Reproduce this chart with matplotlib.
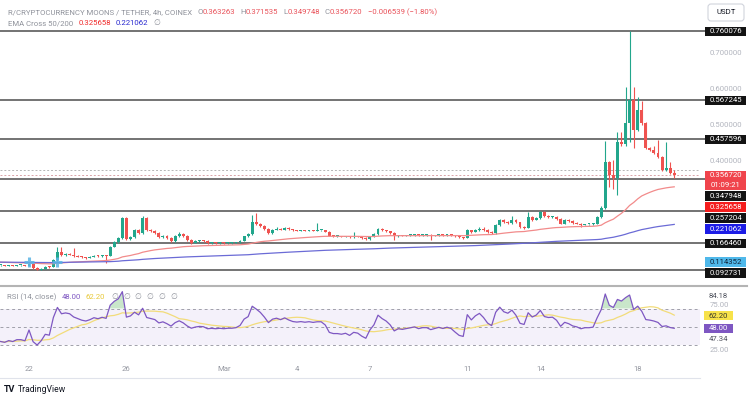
import numpy as np
import pandas as pd
import matplotlib
matplotlib.use("Agg")
import matplotlib.pyplot as plt
from matplotlib.patches import Rectangle, FancyBboxPatch
from matplotlib.ticker import FormatStrFormatter

plt.rcParams['font.family'] = ['Roboto', 'DejaVu Sans']

# ---- data: R/CRYPTOCURRENCY MOONS / TETHER, 4h candles (COINEX) ----
first_open = 0.105
close = [
    0.105, 0.104, 0.105, 0.104, 0.105, 0.105, 0.104, 0.110, 0.098, 0.093,
    0.096, 0.101, 0.100, 0.120, 0.142, 0.134, 0.136, 0.135, 0.131, 0.129,
    0.127, 0.126, 0.128, 0.131, 0.130, 0.132, 0.131, 0.157, 0.170, 0.181,
    0.237, 0.178, 0.184, 0.204, 0.196, 0.237, 0.204, 0.200, 0.196, 0.183,
    0.188, 0.181, 0.172, 0.186, 0.194, 0.187, 0.176, 0.168, 0.172, 0.174,
    0.173, 0.167, 0.168, 0.167, 0.168, 0.167, 0.168, 0.168, 0.169, 0.173,
    0.186, 0.192, 0.227, 0.222, 0.216, 0.207, 0.195, 0.205, 0.208, 0.205,
    0.210, 0.206, 0.203, 0.202, 0.203, 0.202, 0.203, 0.202, 0.203, 0.203,
    0.199, 0.188, 0.186, 0.186, 0.185, 0.186, 0.183, 0.186, 0.185, 0.181,
    0.178, 0.186, 0.192, 0.207, 0.203, 0.200, 0.195, 0.186, 0.189, 0.188,
    0.189, 0.190, 0.191, 0.189, 0.190, 0.190, 0.188, 0.189, 0.190, 0.189,
    0.190, 0.189, 0.186, 0.183, 0.182, 0.203, 0.198, 0.204, 0.208, 0.204,
    0.198, 0.195, 0.218, 0.232, 0.226, 0.224, 0.232, 0.225, 0.212, 0.210,
    0.240, 0.232, 0.238, 0.254, 0.242, 0.240, 0.241, 0.235, 0.222, 0.232,
    0.229, 0.224, 0.222, 0.218, 0.220, 0.220, 0.221, 0.240, 0.265, 0.395,
    0.358, 0.350, 0.451, 0.444, 0.505, 0.568, 0.484, 0.540, 0.503, 0.433,
    0.428, 0.420, 0.408, 0.372, 0.378, 0.363263, 0.356720,
]
high = [
    0.106, 0.106, 0.106, 0.106, 0.106, 0.107, 0.106, 0.112, 0.112, 0.099,
    0.098, 0.103, 0.104, 0.122, 0.156, 0.156, 0.139, 0.140, 0.153, 0.134,
    0.131, 0.129, 0.130, 0.133, 0.133, 0.134, 0.134, 0.160, 0.173, 0.185,
    0.240, 0.239, 0.188, 0.208, 0.208, 0.242, 0.239, 0.206, 0.203, 0.198,
    0.191, 0.190, 0.183, 0.189, 0.197, 0.196, 0.189, 0.178, 0.175, 0.176,
    0.176, 0.175, 0.170, 0.170, 0.170, 0.170, 0.170, 0.170, 0.171, 0.176,
    0.188, 0.195, 0.246, 0.251, 0.224, 0.218, 0.209, 0.208, 0.211, 0.210,
    0.213, 0.212, 0.208, 0.205, 0.205, 0.205, 0.205, 0.204, 0.224, 0.205,
    0.205, 0.201, 0.190, 0.188, 0.188, 0.188, 0.188, 0.198, 0.188, 0.187,
    0.183, 0.188, 0.195, 0.210, 0.209, 0.205, 0.202, 0.197, 0.191, 0.191,
    0.191, 0.192, 0.193, 0.193, 0.192, 0.192, 0.192, 0.191, 0.192, 0.192,
    0.192, 0.191, 0.191, 0.188, 0.185, 0.206, 0.205, 0.207, 0.211, 0.213,
    0.206, 0.200, 0.221, 0.235, 0.234, 0.228, 0.244, 0.234, 0.227, 0.214,
    0.255, 0.242, 0.241, 0.257, 0.256, 0.245, 0.244, 0.243, 0.237, 0.235,
    0.234, 0.231, 0.226, 0.224, 0.222, 0.222, 0.223, 0.243, 0.270, 0.452,
    0.398, 0.400, 0.478, 0.478, 0.604, 0.760076, 0.604, 0.576, 0.564, 0.506,
    0.436, 0.440, 0.456, 0.410, 0.451, 0.395, 0.371535,
]
low = [
    0.104, 0.103, 0.103, 0.103, 0.103, 0.104, 0.103, 0.103, 0.096, 0.0927,
    0.092, 0.095, 0.098, 0.099, 0.118, 0.132, 0.132, 0.133, 0.129, 0.127,
    0.125, 0.124, 0.125, 0.127, 0.128, 0.129, 0.111, 0.130, 0.155, 0.168,
    0.180, 0.175, 0.176, 0.182, 0.193, 0.194, 0.202, 0.198, 0.194, 0.181,
    0.181, 0.179, 0.170, 0.171, 0.184, 0.185, 0.174, 0.166, 0.167, 0.170,
    0.171, 0.165, 0.166, 0.165, 0.166, 0.165, 0.166, 0.166, 0.167, 0.168,
    0.172, 0.184, 0.190, 0.219, 0.213, 0.205, 0.192, 0.193, 0.203, 0.203,
    0.204, 0.204, 0.201, 0.200, 0.201, 0.200, 0.201, 0.200, 0.201, 0.201,
    0.197, 0.186, 0.184, 0.184, 0.183, 0.184, 0.181, 0.182, 0.183, 0.179,
    0.176, 0.177, 0.185, 0.190, 0.201, 0.198, 0.193, 0.176, 0.185, 0.186,
    0.187, 0.187, 0.188, 0.187, 0.188, 0.188, 0.176, 0.187, 0.188, 0.187,
    0.188, 0.187, 0.184, 0.181, 0.179, 0.181, 0.196, 0.197, 0.202, 0.202,
    0.196, 0.193, 0.194, 0.216, 0.224, 0.222, 0.222, 0.223, 0.210, 0.207,
    0.209, 0.230, 0.231, 0.236, 0.240, 0.238, 0.238, 0.233, 0.220, 0.221,
    0.227, 0.222, 0.220, 0.211, 0.217, 0.218, 0.219, 0.220, 0.238, 0.262,
    0.325, 0.320, 0.302, 0.440, 0.440, 0.450, 0.434, 0.480, 0.498, 0.430,
    0.425, 0.417, 0.405, 0.369, 0.368, 0.360, 0.349748,
]

# horizontal levels drawn on the chart
levels = [0.760076, 0.567245, 0.457596, 0.347948, 0.257204, 0.166460, 0.092731]
last_high = 0.371535
cross_idx = [7, 14]
cross_price = 0.114352

ema_fast_span, ema_slow_span = 50, 200
ema_fast_seed, ema_slow_seed = 0.114, 0.114
ema_fast_last, ema_slow_last = 0.325658, 0.221062
rsi_len = 14
rsi_gain_seed, rsi_loss_seed = 0.001, 0.002
rsi_last, rsi_ma_last = 48.00, 62.20
rsi_upper_lbl, rsi_lower_lbl = 84.18, 47.34
change_abs, change_pct = -0.006539, -1.80
countdown = "01:09:21"

date_labels = ['22', '26', 'Mar', '4', '7', '11', '14', '18']
date_idx = [7, 31, 55, 73, 91, 115, 133, 157]

# ---- derived series ----
c = np.array(close)
h = np.array(high)
l = np.array(low)
o = np.r_[first_open, c[:-1]]
n = len(c)
idx = np.arange(n)

ema_fast = pd.Series(np.r_[ema_fast_seed, c]).ewm(span=ema_fast_span, adjust=False).mean().values[1:]
ema_slow = pd.Series(np.r_[ema_slow_seed, c]).ewm(span=ema_slow_span, adjust=False).mean().values[1:]

d = np.diff(np.r_[first_open, c])
ag = pd.Series(np.r_[rsi_gain_seed, np.clip(d, 0, None)]).ewm(alpha=1 / rsi_len, adjust=False).mean().values[1:]
al = pd.Series(np.r_[rsi_loss_seed, np.clip(-d, 0, None)]).ewm(alpha=1 / rsi_len, adjust=False).mean().values[1:]
rsi = 100 - 100 / (1 + ag / al)
rsi_ma = pd.Series(rsi).rolling(rsi_len, min_periods=1).mean().values

# ---- figure ----
W, H = 750, 398
GREEN, RED = '#22a68c', '#ef5350'
GRAY_TXT = '#8f929b'

fig = plt.figure(figsize=(W / 100, H / 100), dpi=100)
fig.patch.set_facecolor('white')


def px_rect(x0, y0, x1, y1):
    return [x0 / W, 1 - y1 / H, (x1 - x0) / W, (y1 - y0) / H]


ax = fig.add_axes(px_rect(0, 0, 700, 285))
ax_rsi = fig.add_axes(px_rect(0, 286, 700, 378))
ov = fig.add_axes([0, 0, 1, 1], zorder=10)
ov.set_xlim(0, W)
ov.set_ylim(H, 0)
ov.axis('off')

xl = (-0.15, 172.35)
ax.set_xlim(*xl)
ax.set_ylim(0.0499, 0.8482)
ax_rsi.set_xlim(*xl)
ax_rsi.set_ylim(-7.2, 95)

for a in (ax, ax_rsi):
    for s in ('top', 'left', 'right', 'bottom'):
        a.spines[s].set_visible(False)
    a.set_xticks([])
    a.yaxis.tick_right()
    a.tick_params(axis='y', length=0, pad=7, labelsize=5.6, labelcolor='#b2b5be')
ax_rsi.spines['bottom'].set_visible(True)
ax_rsi.spines['bottom'].set_color('#e0e3eb')

ax.set_yticks([0.4, 0.5, 0.6, 0.7])
ax.yaxis.set_major_formatter(FormatStrFormatter('%.6f'))
ax_rsi.set_yticks([75, 25])
ax_rsi.yaxis.set_major_formatter(FormatStrFormatter('%.2f'))

# levels and price lines
for v in levels:
    ax.axhline(v, xmax=1.008, color='#4d4d4d', lw=1.1, zorder=2, clip_on=False)
ax.axhline(c[-1], color='#d9a3a8', lw=0.7, ls=(0, (2, 2)), zorder=2)
ax.axhline(last_high, color='#b5b5b5', lw=0.7, ls=(0, (2, 2)), zorder=2)

# candles
up = c >= o
col = np.where(up, GREEN, RED)
body_lo = np.minimum(o, c)
body_h = np.maximum(np.abs(c - o), 0.0028)
ax.vlines(idx, l, h, colors=col, lw=0.8, zorder=3)
ax.bar(idx, body_h, bottom=body_lo, width=0.72, color=col, lw=0, zorder=4)

# EMA cross
ax.plot(idx, ema_fast, color='#f28b8b', lw=0.9, zorder=5)
ax.plot(idx, ema_slow, color='#6b6bd6', lw=0.9, zorder=5)
ax.plot(cross_idx, [cross_price] * len(cross_idx), '+', color='#5ab4e5',
        ms=7, mew=2.2, alpha=0.85, zorder=6)

# RSI pane
ax_rsi.axhspan(30, 70, color='#7e57c2', alpha=0.08, lw=0)
for v in (70, 50, 30):
    ax_rsi.axhline(v, color='#a0a0aa', lw=0.7, ls=(0, (3, 3)))
ax_rsi.fill_between(idx, rsi, 70, where=rsi > 70, interpolate=True,
                    color='#a5d6a7', alpha=0.6, lw=0)
ax_rsi.plot(idx, rsi_ma, color='#f2dc7a', lw=0.9)
ax_rsi.plot(idx, rsi, color='#7e57c2', lw=0.9)
for j, lab in zip(date_idx, date_labels):
    ax_rsi.text(j, 0.098, lab, transform=ax_rsi.get_xaxis_transform(),
                ha='center', va='center', fontsize=5.6, color='#9598a1')

# panel separator
ov.plot([0, 747], [285.5, 285.5], color='#b4b4b4', lw=1.5)


def to_px(a, v):
    return H - a.transData.transform((0, v))[1]


def stack(a, items, x0=705, w=41, hh=9.5, gap=1.5):
    prev = -1e9
    for val, lines, fc, tc in items:
        cy = to_px(a, val)
        top = max(cy - hh / 2, prev + gap)
        bh = hh * len(lines)
        if fc is not None:
            ov.add_patch(Rectangle((x0, top), w, bh, fc=fc, ec='none', zorder=3))
        for k, txt in enumerate(lines):
            ov.text(x0 + w / 2, top + hh * (k + 0.5), txt, ha='center', va='center',
                    fontsize=5.6, color=tc, zorder=4)
        prev = top + bh


price_items = [
    (levels[0], ['%.6f' % levels[0]], '#131313', 'white'),
    (levels[1], ['%.6f' % levels[1]], '#131313', 'white'),
    (levels[2], ['%.6f' % levels[2]], '#131313', 'white'),
    (c[-1], ['%.6f' % c[-1], countdown], '#f0444c', 'white'),
    (levels[3], ['%.6f' % levels[3]], '#131313', 'white'),
    (ema_fast_last, ['%.6f' % ema_fast_last], '#f51d1d', 'white'),
    (levels[4], ['%.6f' % levels[4]], '#131313', 'white'),
    (ema_slow_last, ['%.6f' % ema_slow_last], '#1c1ce6', 'white'),
    (levels[5], ['%.6f' % levels[5]], '#131313', 'white'),
    (cross_price, ['%.6f' % cross_price], '#4fb8ea', '#10243a'),
    (levels[6], ['%.6f' % levels[6]], '#131313', 'white'),
]
stack(ax, price_items)

rsi_items = [
    (rsi_upper_lbl, ['%.2f' % rsi_upper_lbl], None, '#50535e'),
    (rsi_ma_last, ['%.2f' % rsi_ma_last], '#f7e24a', '#3a3a2a'),
    (rsi_last, ['%.2f' % rsi_last], '#7e57c2', 'white'),
    (rsi_lower_lbl, ['%.2f' % rsi_lower_lbl], None, '#50535e'),
]
stack(ax_rsi, rsi_items, x0=704, w=29)

# currency box
ov.add_patch(FancyBboxPatch((708, 4), 36, 17, boxstyle='round,pad=0,rounding_size=3',
                            fc='white', ec='#d1d4dc', lw=0.8, zorder=3))
ov.text(726, 12.5, 'USDT', ha='center', va='center', fontsize=5.6, color='#131722', zorder=4)

# legend-like header texts
renderer = fig.canvas.get_renderer()


def chain(x, y, pieces, size=5.6):
    for txt, color, gap in pieces:
        t = ov.text(x, y, txt, color=color, fontsize=size, ha='left', va='center')
        x += t.get_window_extent(renderer).width + gap
    return x


RED_T = '#e9525a'
chain(8, 12, [
    ('R/CRYPTOCURRENCY MOONS / TETHER, 4h, COINEX', GRAY_TXT, 5),
    ('O', GRAY_TXT, 0), ('%.6f' % o[-1], RED_T, 5),
    ('H', GRAY_TXT, 0), ('%.6f' % h[-1], RED_T, 5),
    ('L', GRAY_TXT, 0), ('%.6f' % l[-1], RED_T, 5),
    ('C', GRAY_TXT, 0), ('%.6f' % c[-1], RED_T, 5),
    ('\u2212%.6f (\u2212%.2f%%)' % (abs(change_abs), abs(change_pct)), RED_T, 0),
])
chain(8, 23, [
    ('EMA Cross 50/200', GRAY_TXT, 5),
    ('%.6f' % ema_fast_last, '#f02a2a', 5),
    ('%.6f' % ema_slow_last, '#2a2ad0', 5),
    ('\u2205', GRAY_TXT, 0),
])
chain(7, 297, [
    ('RSI (14, close)', GRAY_TXT, 5),
    ('%.2f' % rsi_last, '#7e57c2', 5),
    ('%.2f' % rsi_ma_last, '#e8c93a', 6),
] + [('\u2205', GRAY_TXT, 5)] * 6)

# footer
ov.text(4, 390, 'TV', fontsize=6.5, fontweight='bold', color='#131722', ha='left', va='center')
ov.text(18, 390, 'TradingView', fontsize=6.2, color='#131722', ha='left', va='center')

fig.savefig('out.png', dpi=100, facecolor='white')
